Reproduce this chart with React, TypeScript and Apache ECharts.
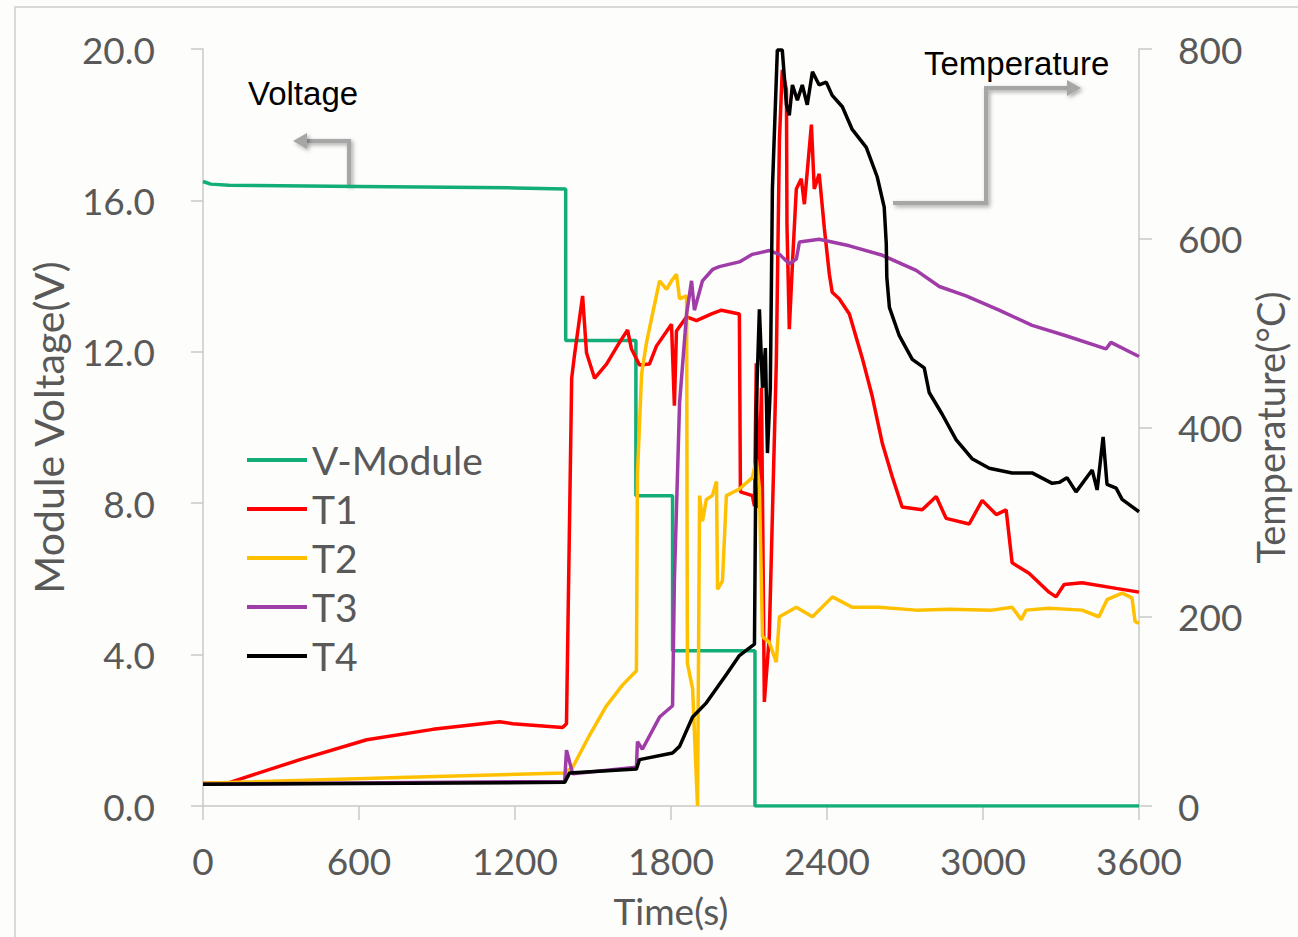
import React, { useEffect, useRef } from "react";
import * as echarts from "echarts";

const timeTicks = [0, 600, 1200, 1800, 2400, 3000, 3600];
const seriesNames = ["V-Module", "T1", "T2", "T3", "T4"];
const seriesColors = ["#12ad78", "#ff0000", "#ffc000", "#a03ca8", "#000000"];

// [time (s), voltage (V)]
const vModule: number[][] = [
  [0, 16.5], [30, 16.43], [100, 16.4], [600, 16.37], [1200, 16.33], [1395, 16.3],
  [1395, 12.3], [1665, 12.3], [1665, 8.2], [1806, 8.2], [1806, 4.1], [2123, 4.1],
  [2123, 0], [3600, 0],
];

// [time (s), temperature (°C)]
const t1: number[][] = [
  [0, 24], [92, 24], [373, 49], [630, 70], [884, 81], [1141, 89], [1191, 87], [1383, 83],
  [1398, 87], [1418, 452], [1429, 477], [1460, 539], [1475, 479], [1506, 452], [1552, 467],
  [1602, 490], [1633, 503], [1648, 483], [1679, 466], [1717, 467], [1744, 486], [1802, 509],
  [1813, 423], [1821, 502], [1860, 517], [1898, 513], [1956, 520], [1994, 524], [2063, 520],
  [2067, 332], [2113, 328], [2121, 317], [2128, 468], [2136, 315], [2148, 442], [2159, 110],
  [2178, 179], [2205, 468], [2217, 704], [2228, 778], [2244, 757], [2246, 615], [2255, 504],
  [2267, 573], [2282, 652], [2301, 663], [2313, 636], [2340, 720], [2351, 652], [2370, 668],
  [2390, 610], [2409, 562], [2420, 543], [2447, 536], [2486, 520], [2536, 473], [2574, 433],
  [2613, 383], [2651, 348], [2689, 316], [2766, 313], [2820, 327], [2858, 304], [2947, 298],
  [2997, 323], [3051, 308], [3089, 313], [3112, 257], [3177, 246], [3254, 226], [3281, 221],
  [3312, 234], [3381, 236], [3512, 230], [3600, 226],
];

const t2: number[][] = [
  [0, 24], [757, 30], [1391, 35], [1422, 41], [1487, 75], [1552, 106], [1614, 128],
  [1667, 143], [1671, 351], [1687, 457], [1706, 490], [1729, 520], [1756, 555], [1783, 546],
  [1802, 555], [1821, 562], [1833, 536], [1860, 539], [1863, 151], [1883, 124], [1902, 0],
  [1910, 328], [1921, 301], [1936, 324], [1959, 328], [1975, 343], [1979, 229], [1998, 238],
  [2013, 328], [2063, 335], [2113, 347], [2128, 366], [2140, 336], [2152, 179], [2178, 173],
  [2205, 152], [2217, 200], [2282, 210], [2344, 200], [2421, 221], [2497, 210], [2601, 210],
  [2743, 207], [2870, 208], [3035, 207], [3112, 210], [3147, 197], [3166, 207], [3254, 209],
  [3381, 207], [3446, 200], [3477, 218], [3535, 225], [3573, 220], [3585, 195], [3600, 193],
];

const t3: number[][] = [
  [0, 23], [1391, 26], [1398, 59], [1422, 34], [1667, 41], [1671, 68], [1690, 60],
  [1756, 94], [1806, 106], [1813, 238], [1833, 426], [1860, 520], [1879, 555], [1890, 524],
  [1921, 555], [1960, 567], [1986, 570], [2063, 575], [2113, 583], [2178, 587], [2217, 583],
  [2255, 573], [2282, 578], [2294, 596], [2370, 599], [2486, 592], [2613, 582], [2743, 566],
  [2832, 549], [2935, 539], [3062, 524], [3189, 508], [3319, 497], [3473, 483], [3492, 490],
  [3600, 475],
];

const t4: number[][] = [
  [0, 23], [1391, 25], [1410, 35], [1667, 39], [1679, 49], [1806, 56], [1833, 63],
  [1883, 94], [1936, 109], [2013, 139], [2063, 159], [2121, 171], [2128, 421], [2140, 525],
  [2152, 442], [2163, 484], [2171, 373], [2182, 442], [2190, 652], [2209, 799], [2228, 799],
  [2244, 741], [2255, 730], [2267, 762], [2286, 746], [2305, 762], [2324, 741], [2344, 776],
  [2370, 762], [2397, 765], [2420, 751], [2459, 739], [2497, 715], [2551, 696], [2593, 665],
  [2620, 633], [2628, 594], [2630, 559], [2640, 527], [2678, 497], [2728, 472], [2774, 463],
  [2793, 437], [2843, 414], [2897, 387], [2958, 367], [3024, 357], [3112, 352], [3189, 352],
  [3266, 341], [3293, 342], [3323, 347], [3358, 332], [3420, 355], [3439, 334], [3462, 390],
  [3477, 340], [3512, 336], [3535, 324], [3600, 311],
];

const allData = [vModule, t1, t2, t3, t4];

export default function App() {
  const ref = useRef<HTMLDivElement>(null);
  useEffect(() => {
    if (!ref.current) return;
    const chart = echarts.init(ref.current, null, { renderer: "svg" });
    const labelFont = "Lato, 'Open Sans', sans-serif";
    const axisLineStyle = { color: "#c8c8c8", width: 1.5 };
    const arrowStyle = {
      stroke: "#a6a6a6",
      lineWidth: 4,
      fill: "none",
      shadowBlur: 4,
      shadowColor: "rgba(0,0,0,0.35)",
      shadowOffsetX: 2,
      shadowOffsetY: 2,
    };
    chart.setOption({
      animation: false,
      backgroundColor: "#fdfdfb",
      grid: {
        left: 203,
        right: 159,
        top: 49,
        bottom: 131,
        containLabel: false,
        outerBoundsMode: "none",
      },
      legend: {
        orient: "vertical",
        left: 247,
        top: 439,
        padding: 0,
        itemWidth: 60,
        itemHeight: 4,
        itemGap: 7,
        icon: "rect",
        data: seriesNames,
        textStyle: { fontFamily: labelFont, fontSize: 39, color: "#595959", lineHeight: 42 },
      },
      xAxis: {
        type: "value",
        min: timeTicks[0],
        max: timeTicks[timeTicks.length - 1],
        interval: timeTicks[1] - timeTicks[0],
        name: "Time(s)",
        nameLocation: "middle",
        nameGap: 86,
        nameMoveOverlap: false,
        nameTextStyle: { fontFamily: labelFont, fontSize: 37, color: "#595959" },
        axisLine: { show: true, lineStyle: axisLineStyle },
        axisTick: { show: true, length: 14, lineStyle: axisLineStyle },
        axisLabel: {
          fontFamily: labelFont,
          fontSize: 37,
          color: "#595959",
          margin: 36,
          formatter: (v: number) => String(v),
        },
        splitLine: { show: false },
      },
      yAxis: [
        {
          type: "value",
          min: 0,
          max: 20,
          interval: 4,
          position: "left",
          name: "Module Voltage(V)",
          nameLocation: "middle",
          nameRotate: 90,
          nameGap: 134,
          nameMoveOverlap: false,
          nameTextStyle: { fontFamily: labelFont, fontSize: 41, color: "#595959" },
          axisLine: { show: true, lineStyle: axisLineStyle },
          axisTick: { show: true, length: 12, lineStyle: axisLineStyle },
          axisLabel: {
            fontFamily: labelFont,
            fontSize: 37,
            color: "#595959",
            margin: 48,
            formatter: (v: number) => v.toFixed(1),
          },
          splitLine: { show: false },
        },
        {
          type: "value",
          min: 0,
          max: 800,
          interval: 200,
          position: "right",
          name: "Temperature(°C)",
          nameLocation: "middle",
          nameRotate: 90,
          nameGap: 112,
          nameMoveOverlap: false,
          nameTextStyle: { fontFamily: labelFont, fontSize: 38, color: "#595959" },
          axisLine: { show: true, lineStyle: axisLineStyle },
          axisTick: { show: true, length: 13, lineStyle: axisLineStyle },
          axisLabel: { fontFamily: labelFont, fontSize: 37, color: "#595959", margin: 39 },
          splitLine: { show: false },
        },
      ],
      series: seriesNames.map((name, i) => ({
        name,
        type: "line",
        yAxisIndex: i === 0 ? 0 : 1,
        data: allData[i],
        showSymbol: false,
        symbol: "none",
        lineStyle: { color: seriesColors[i], width: 3.5 },
        itemStyle: { color: seriesColors[i] },
        z: 2 + i,
      })),
      graphic: [
        {
          type: "rect",
          shape: { x: 15, y: 7, width: 1300, height: 950 },
          style: { fill: "none", stroke: "#d9d9d9", lineWidth: 2 },
          silent: true,
        },
        {
          type: "text",
          x: 248,
          y: 93,
          style: {
            text: "Voltage",
            fontFamily: "'Liberation Sans', Arial, sans-serif",
            fontSize: 33,
            fill: "#000000",
            verticalAlign: "middle",
            align: "left",
          },
        },
        {
          type: "text",
          x: 924,
          y: 63,
          style: {
            text: "Temperature",
            fontFamily: "'Liberation Sans', Arial, sans-serif",
            fontSize: 33,
            fill: "#000000",
            verticalAlign: "middle",
            align: "left",
          },
        },
        {
          type: "polyline",
          shape: { points: [[349, 186], [349, 141], [306, 141]] },
          style: arrowStyle,
        },
        {
          type: "polygon",
          shape: { points: [[293, 141], [307, 133], [307, 149]] },
          style: { fill: "#a6a6a6", shadowBlur: 4, shadowColor: "rgba(0,0,0,0.35)", shadowOffsetX: 2, shadowOffsetY: 2 },
        },
        {
          type: "polyline",
          shape: { points: [[893, 203], [986, 203], [986, 88], [1067, 88]] },
          style: arrowStyle,
        },
        {
          type: "polygon",
          shape: { points: [[1081, 88], [1067, 80], [1067, 96]] },
          style: { fill: "#a6a6a6", shadowBlur: 4, shadowColor: "rgba(0,0,0,0.35)", shadowOffsetX: 2, shadowOffsetY: 2 },
        },
      ],
    });
    return () => chart.dispose();
  }, []);
  return (
    <div
      ref={ref}
      style={{ position: "fixed", left: 0, top: 0, width: 1298, height: 937 }}
    />
  );
}
